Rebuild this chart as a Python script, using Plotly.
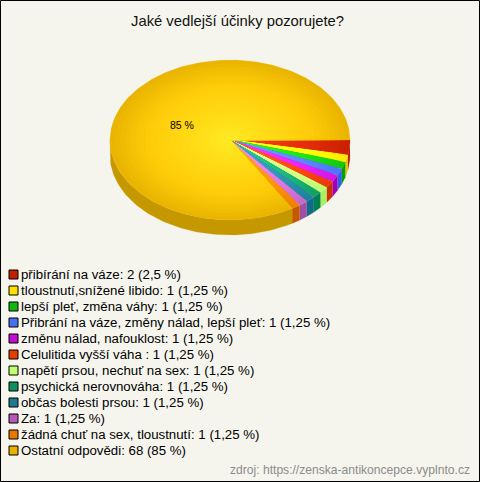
import numpy as np
import plotly.graph_objects as go

# --- data ---
categories = ["přibírání na váze", "tloustnutí,snížené libido", "lepší pleť, změna váhy",
              "Přibrání na váze, změny nálad, lepší pleť", "změnu nálad, nafouklost",
              "Celulitida vyšší váha ", "napětí prsou, nechuť na sex", "psychická nerovnováha",
              "občas bolesti prsou", "Za", "žádná chuť na sex, tloustnutí", "Ostatní odpovědi"]
counts = [2, 1, 1, 1, 1, 1, 1, 1, 1, 1, 1, 68]
top_colors = ["#C82000", "#FFE800", "#10C810", "#4C74FF", "#D018E0", "#E83A08",
              "#BCFF70", "#10A068", "#20809C", "#C468C8", "#EE8000", "#E8B400"]
side_colors = ["#B81C00", "#E0C400", "#00A000", "#3060E0", "#A000B8", "#D03000",
               "#A8F060", "#007F50", "#0F6C88", "#A050A0", "#C85800", "#C69800"]
legend_colors = ["#C02000", "#FFE000", "#10B810", "#4870F0", "#C010D0", "#E04000",
                 "#C0FF70", "#109060", "#207890", "#B858B8", "#E87800", "#E8B000"]
title = "Jaké vedlejší účinky pozorujete?"
source = "zdroj: https://zenska-antikoncepce.vyplnto.cz"
BG = "#F5F5EE"

# --- geometry of the drawing ---
CX, CY, RX, RY, DEPTH = 230.0, 140.0, 120.0, 80.0, 15.0
WARP = 1.2
LEG_Y0, LEG_DY = 274.5, 16.0
RINGS = 24

values = np.array(counts, dtype=float)
total = values.sum()
edges = np.concatenate([[0], np.cumsum(values)]) / total * 2 * np.pi
warped = np.arctan2(WARP * np.sin(edges), np.cos(edges))
warped = np.where(warped < -1e-9, warped + 2 * np.pi, warped)
warped[-1] = 2 * np.pi


def rgb(h):
    return np.array([int(h[i:i + 2], 16) for i in (1, 3, 5)], dtype=float)


def shade(hexc, r):
    c = rgb(hexc)
    stops = [np.clip(c * 1.1 + 38, 0, 255), np.clip(c * 1.1 + 24, 0, 255),
             np.clip(c * 1.08 + 10, 0, 255), c]
    out = [np.interp(r, [0, 0.25, 0.68, 1], [s[j] for s in stops]) for j in range(3)]
    return "rgb(%d,%d,%d)" % tuple(out)


def arc(t0, t1):
    n = max(2, int((t1 - t0) / np.radians(1.5)) + 2)
    return np.linspace(t0, t1, n)


fig = go.Figure()


def poly(x, y, color):
    fig.add_trace(go.Scatter(x=x, y=y, mode="lines", fill="toself", fillcolor=color,
                             line=dict(width=0.2, color=color), hoverinfo="skip", showlegend=False))


# side walls (only the front half is visible)
for i in range(len(values)):
    t0, t1 = warped[i], min(warped[i + 1], np.pi)
    if t0 >= np.pi:
        continue
    t = arc(t0, t1)
    x = CX + RX * np.cos(t)
    y = CY + RY * np.sin(t)
    poly(np.r_[x, x[::-1]], np.r_[y, y[::-1] + DEPTH], side_colors[i])

# top face: radial shading built from nested wedges
for i in range(len(values)):
    t = arc(warped[i], warped[i + 1])
    for k in range(RINGS, 0, -1):
        r = k / RINGS
        poly(np.r_[CX, CX + r * RX * np.cos(t), CX],
             np.r_[CY, CY + r * RY * np.sin(t), CY],
             shade(top_colors[i], (k - 0.5) / RINGS))

# legend swatches
rows = [LEG_Y0 + LEG_DY * i for i in range(len(categories))]
fig.add_trace(go.Scatter(x=[13.5] * len(rows), y=rows, mode="markers",
                         marker=dict(symbol="square", size=9, color=legend_colors,
                                     line=dict(color="#000000", width=1)),
                         hoverinfo="skip", showlegend=False))

annotations = []


def note(x, y, text, size, color="#000000", anchor="left"):
    annotations.append(dict(x=x, y=y, xref="x", yref="y", text=text, showarrow=False,
                            xanchor=anchor, yanchor="middle", align=anchor,
                            font=dict(family="Liberation Sans, Arial, sans-serif", size=size, color=color)))


def fmt(n):
    return f"{n / total * 100:g}".replace(".", ",")


for cat, n, y in zip(categories, counts, rows):
    note(19, y, f"{cat}: {n} ({fmt(n)} %)", 13.25)
note(237.5, 20.5, title, 14.8, "#111111", "center")
note(181.5, 124.5, f"{fmt(counts[-1])} %", 10.5, "#000000", "center")
note(472, 470, source, 12.1, "#8C8C8C", "right")

fig.update_layout(
    width=480, height=482, margin=dict(l=0, r=0, t=0, b=0),
    paper_bgcolor=BG, plot_bgcolor=BG, annotations=annotations,
    xaxis=dict(range=[0, 480], visible=False, fixedrange=True),
    yaxis=dict(range=[482, 0], visible=False, fixedrange=True),
    shapes=[dict(type="rect", x0=0.5, y0=0.5, x1=479.5, y1=481.5,
                 line=dict(color="#000000", width=1), fillcolor="rgba(0,0,0,0)")],
)
fig.write_html("out.html", config=dict(displayModeBar=False),
               post_script="document.body.style.margin='0';document.body.style.overflow='hidden';")
